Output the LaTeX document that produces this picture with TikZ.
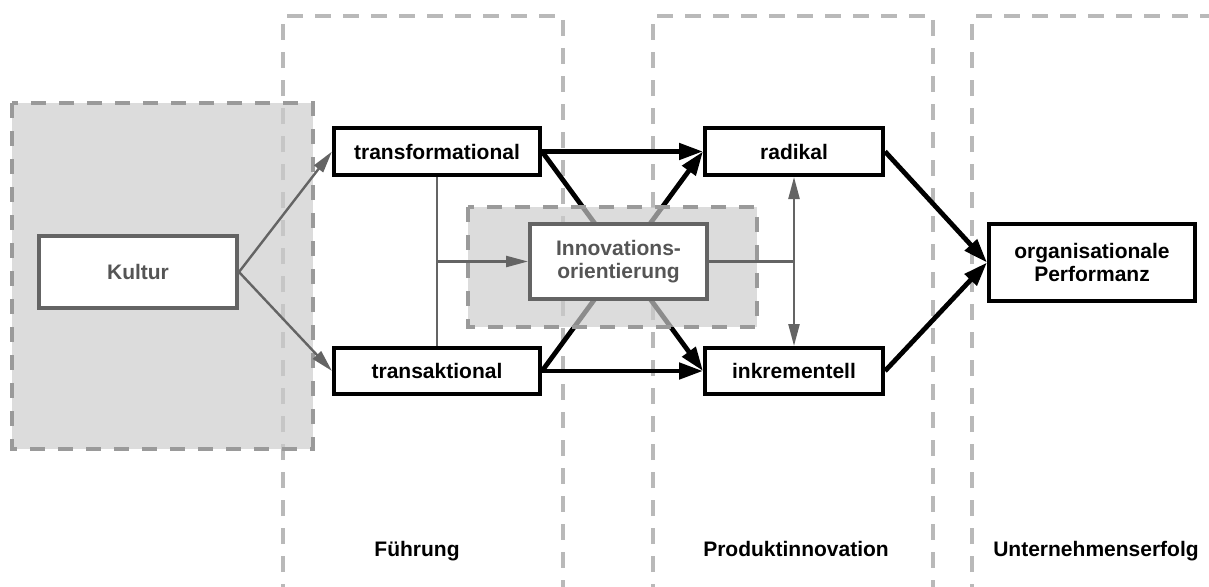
\documentclass[tikz,border=0pt]{standalone}
\usepackage{fontspec}
\setmainfont{Liberation Sans}
\usetikzlibrary{arrows.meta}

\definecolor{framegray}{HTML}{B9B9B9}
\definecolor{zoneedge}{HTML}{9A9A9A}
\definecolor{zonefill}{HTML}{CCCCCC}
\definecolor{softgray}{HTML}{646464}
\definecolor{textgray}{HTML}{555555}

\begin{document}
\begin{tikzpicture}[x=1pt,y=-1pt,
  column/.style={draw=framegray, line width=3.3pt, dash pattern=on 16pt off 12pt},
  zone/.style={draw=zoneedge, line width=4pt, dash pattern=on 15pt off 13pt,
               fill=zonefill, fill opacity=0.69},
  box/.style={draw=black, fill=white, line width=4pt, inner sep=0pt,
              font=\bfseries\fontsize{21}{23}\selectfont, align=center},
  graybox/.style={box, draw=softgray, text=textgray},
  thickarrow/.style={draw=black, line width=4.8pt,
                     -{Triangle[length=24pt,width=16pt]}},
  thinarrow/.style={draw=softgray, line width=2.4pt,
                    -{Triangle[length=22pt,width=11pt]}},
  thinline/.style={draw=softgray, line width=2.4pt},
  caption/.style={font=\bfseries\fontsize{21}{23}\selectfont, inner sep=0pt}]

\useasboundingbox (0,0) rectangle (1209,586);

% column frames, open towards the bottom
\draw[column] (283,600) -- (283,16) -- (563,16) -- (563,600);
\draw[column] (653,600) -- (653,16) -- (933,16) -- (933,600);
\draw[column] (972,600) -- (972,16) -- (1230,16);

% boxes placed first so the connectors can refer to them
\path (138,272)   node[graybox, minimum width=198pt, minimum height=72pt] (kultur) {}
      (437,151.5) node[box, minimum width=206pt, minimum height=47pt] (trf) {}
      (437,371)   node[box, minimum width=206pt, minimum height=46pt] (trk) {}
      (618.5,261.5) node[graybox, minimum width=177pt, minimum height=75pt] (innov) {}
      (794,151.5) node[box, minimum width=178pt, minimum height=47pt] (rad) {}
      (794,371)   node[box, minimum width=178pt, minimum height=46pt] (ink) {}
      (1092,262.5) node[box, minimum width=206pt, minimum height=77pt] (perf) {};

% leadership to innovation type, and innovation type to performance
\draw[thickarrow] (trf.east) -- (rad.west);
\draw[thickarrow] (trf.east) -- (ink.west);
\draw[thickarrow] (trk.east) -- (rad.west);
\draw[thickarrow] (trk.east) -- (ink.west);
\draw[thickarrow] (rad.east) -- (perf.west);
\draw[thickarrow] (ink.east) -- (perf.west);

% shaded zones
\draw[zone] (12,103) rectangle (313,449);
\draw[zone] (468,207) rectangle (757,327);

% boxes with their texts
\node[graybox, minimum width=198pt, minimum height=72pt] at (kultur) {Kultur};
\node[box, minimum width=206pt, minimum height=47pt] at (trf) {transformational};
\node[box, minimum width=206pt, minimum height=46pt] at (trk) {transaktional};
\node[graybox, minimum width=177pt, minimum height=75pt] at (innov) {Innovations-\\orientierung};
\node[box, minimum width=178pt, minimum height=47pt] at (rad) {radikal};
\node[box, minimum width=178pt, minimum height=46pt] at (ink) {inkrementell};
\node[box, minimum width=206pt, minimum height=77pt] at (perf) {organisationale\\Performanz};

% culture to leadership
\draw[thinarrow] (kultur.east) -- (trf.west);
\draw[thinarrow] (kultur.east) -- (trk.west);

% leadership feeding the innovation orientation
\coordinate (join) at (trf.south |- innov.west);
\draw[thinline] (trf.south) -- (trk.north);
\draw[thinarrow] (join) -- (innov.west);

% innovation orientation moderating radical / incremental
\coordinate (split) at (rad.south |- innov.east);
\draw[thinline] (innov.east) -- (split);
\draw[thinline, {Triangle[length=22pt,width=11pt]}-{Triangle[length=22pt,width=11pt]}]
  (rad.south) -- (ink.north);

% column captions
\node[caption] (c1) at (417,551) {Führung};
\node[caption] (c2) at (796,549) {Produktinnovation};
\node[caption] (c3) at (1096,551) {Unternehmenserfolg};

\end{tikzpicture}
\end{document}
